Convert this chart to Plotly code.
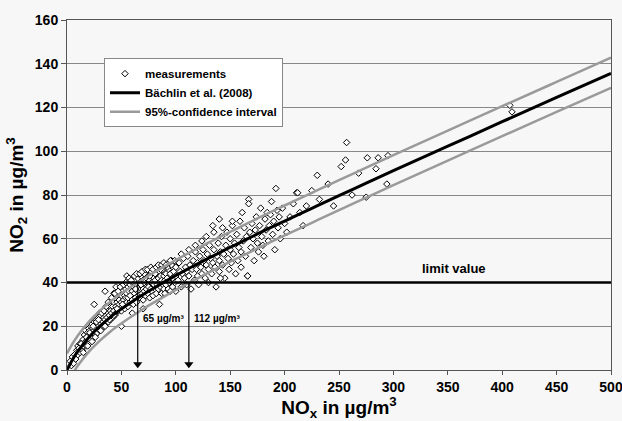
import plotly.graph_objects as go

meas_x = [3,4,5,6,7,8,9,10,10,11,12,12,13,14,14,15,15,16,16,17,17,18,18,19,19,20,20,20,21,21,22,22,23,23,24,24,25,25,26,26,27,27,28,28,29,29,30,30,30,31,31,32,32,33,33,34,34,35,35,36,36,37,37,38,38,39,39,40,40,40,
          41,42,42,43,43,44,44,45,45,46,46,47,47,48,48,49,49,50,50,50,51,51,52,52,53,53,54,54,55,55,56,56,57,57,58,58,59,59,60,60,60,61,61,62,62,63,63,64,64,65,65,66,66,67,67,68,68,69,69,70,70,70,71,71,72,72,73,73,74,74,75,75,76,76,77,77,78,78,79,79,80,80,80,81,81,82,82,83,83,84,84,85,85,86,86,87,87,88,88,89,89,90,90,90,91,91,92,93,93,94,95,95,96,97,97,98,99,100,100,100,
          55,50,85,35,25,70,60,45,43,
          11,13,18,21,24,27,29,32,34,36,38,41,44,47,49,52,54,57,59,62,64,67,69,72,74,77,79,82,84,87,89,92,94,96,99,
          15,19,23,26,31,35,39,43,46,51,56,58,63,68,71,76,81,86,91,95,
          102,103,104,105,106,107,108,109,110,110,111,112,113,114,115,116,117,118,119,120,120,121,122,123,124,125,126,127,128,129,130,130,131,132,133,134,135,136,137,138,139,140,140,141,142,143,144,145,146,147,148,149,150,150,151,152,153,154,155,156,157,158,159,160,160,134,140,141,166,
          105,112,118,124,128,135,143,152,
          161,162,163,164,165,166,167,167,168,169,170,171,172,173,174,175,176,177,178,179,180,181,182,183,184,185,186,187,188,189,190,191,192,193,194,195,196,198,200,202,205,208,211,212,214,217,220,
          225,230,232,240,245,252,256,257,262,268,275,276,284,286,294,295,407,409]
meas_y = [4,2,6,3,7,5,9,7,11,9,12,8,10,13,9,14,11,12,16,13,18,15,11,17,14,16,19,12,18,14,20,16,17,21,15,19,22,18,20,16,23,19,21,17,24,20,22,18,26,21,25,19,23,26,22,24,20,27,23,25,21,28,24,26,22,29,25,27,23,31,
          26,29,24,31,27,25,33,29,26,31,28,34,27,30,32,28,35,31,27,34,29,36,32,30,34,28,33,37,31,35,29,38,33,36,31,39,34,37,32,36,40,30,38,35,41,33,37,39,31,36,42,34,38,40,33,37,43,35,39,41,32,37,36,44,39,34,42,37,35,40,43,38,33,41,45,37,40,36,43,34,39,42,46,37,41,44,35,39,47,42,37,40,45,38,43,35,41,46,39,43,37,41,48,35,44,39,42,46,37,40,44,36,48,42,38,45,40,43,47,36,
          43,20,30,36,30,28,26,38,35,
          10,12,15,17,20,22,23,26,27,29,31,33,35,36,38,39,40,42,41,43,44,44,45,46,46,47,46,47,48,48,49,47,49,50,50,
          8,11,13,15,18,20,23,25,28,30,33,34,37,39,40,43,44,46,48,50,
          41,49,45,38,44,51,42,47,39,45,52,43,48,37,46,50,41,54,46,49,43,39,52,47,44,55,50,42,48,53,46,40,57,51,44,49,55,47,38,52,58,50,45,54,61,48,53,42,57,63,51,46,55,60,49,66,53,58,44,62,50,56,68,54,47,66,69,42,43,
          53,55,57,59,61,63,65,68,
          72,59,65,52,61,43,78,76,63,56,67,60,50,64,70,58,54,66,74,61,57,52,69,64,72,59,66,71,77,62,68,55,83,73,65,70,60,74,67,63,70,76,81,81,72,66,75,
          82,89,78,85,75,93,96,104,80,90,79,97,92,97,85,98,121,118]

# Model curve and 95 % confidence band
fit_x = [0,5,10,20,30,40,50,60,70,80,90,100,110,120,130,140,150,160,175,200,225,250,275,300,350,400,450,500]
fit_y = [0,4.7,8.6,14.9,19.9,24.2,27.9,31.3,34.5,37.5,40.4,43.2,45.9,48.5,51.1,53.6,56.1,58.5,62.2,68.1,73.9,79.7,85.4,91.1,102.3,113.5,124.6,135.6]
upper_y = [7.6,12.0,15.8,22.0,27.0,31.3,35.0,38.4,41.6,44.6,47.5,50.3,53.0,55.6,58.2,60.7,63.2,65.6,69.3,75.2,81.0,86.8,92.5,98.2,109.4,120.6,131.7,142.8]
lower_y = [-6.6,-1.9,2.0,8.3,13.3,17.6,21.3,24.7,27.9,30.9,33.8,36.6,39.3,41.9,44.5,47.0,49.5,51.9,55.6,61.5,67.3,73.1,78.8,84.5,95.7,106.9,118.0,129.0]

limit_value = 40
arrow_x = [65, 112]
arrow_labels = ["65 µg/m³", "112 µg/m³"]

x_ticks = [0, 50, 100, 150, 200, 250, 300, 350, 400, 450, 500]
y_ticks = [0, 20, 40, 60, 80, 100, 120, 140, 160]

FONT = "Liberation Sans, Arial, sans-serif"
BG = "#f7f7f7"

fig = go.Figure()

fig.add_trace(go.Scatter(
    x=meas_x, y=meas_y, mode="markers", name="<b>measurements</b>",
    marker=dict(symbol="diamond", size=5, color="white",
                line=dict(color="black", width=1)),
))
fig.add_trace(go.Scatter(
    x=fit_x, y=fit_y, mode="lines", name="<b>Bächlin et al. (2008)</b>",
    line=dict(color="black", width=3, shape="spline"),
))
fig.add_trace(go.Scatter(
    x=fit_x, y=upper_y, mode="lines", name="<b>95%-confidence interval</b>",
    line=dict(color="#9a9a9a", width=2.5, shape="spline"),
))
fig.add_trace(go.Scatter(
    x=fit_x, y=lower_y, mode="lines", showlegend=False,
    line=dict(color="#9a9a9a", width=2.5, shape="spline"),
))
fig.add_trace(go.Scatter(
    x=[0, 500], y=[limit_value, limit_value], mode="lines", showlegend=False,
    line=dict(color="black", width=2.5),
))

# arrows from the limit value down to the x axis
for ax_val in arrow_x:
    fig.add_trace(go.Scatter(
        x=[ax_val, ax_val], y=[limit_value, 2], mode="lines", showlegend=False,
        line=dict(color="black", width=1.2), hoverinfo="skip"))
    fig.add_trace(go.Scatter(
        x=[ax_val], y=[2.6], mode="markers", showlegend=False,
        marker=dict(symbol="triangle-down", size=8, color="black",
                    line=dict(width=0)), hoverinfo="skip"))

annotations = [dict(x=356, y=limit_value + 6.5, text="<b>limit value</b>",
                    showarrow=False, font=dict(family=FONT, size=13, color="black"))]
for ax_val, lab in zip(arrow_x, arrow_labels):
    annotations.append(dict(
        x=ax_val + 3, y=23.5, text="<b>" + lab + "</b>", showarrow=False,
        xanchor="left", font=dict(family=FONT, size=10, color="black")))

fig.update_layout(
    width=622, height=421,
    margin=dict(l=67, r=11, t=20, b=51),
    paper_bgcolor=BG, plot_bgcolor=BG,
    font=dict(family=FONT, color="black"),
    showlegend=True,
    legend=dict(x=0.068, y=0.891, xanchor="left", yanchor="top",
                bgcolor="white", bordercolor="#888888", borderwidth=1,
                font=dict(family=FONT, size=11.5, color="black"),
                tracegroupgap=0, itemwidth=30),
    annotations=annotations,
    xaxis=dict(range=[0, 500], tickvals=x_ticks,
               ticktext=["<b>%d</b>" % v for v in x_ticks],
               ticklabeloverflow="allow", automargin=False,
               showgrid=False, zeroline=False, showline=True, linecolor="#555555",
               linewidth=1, ticks="outside", ticklen=4, tickcolor="#555555",
               mirror=True, tickfont=dict(family=FONT, size=14),
               title=dict(text="<b>NO<sub>x</sub> in µg/m<sup>3</sup></b>",
                          font=dict(family=FONT, size=19), standoff=2)),
    yaxis=dict(range=[0, 160], tickvals=y_ticks,
               ticktext=["<b>%d</b>" % v for v in y_ticks],
               ticklabeloverflow="allow", automargin=False,
               showgrid=True, gridcolor="#888888", gridwidth=1,
               zeroline=False, showline=True, linecolor="#555555", linewidth=1,
               ticks="outside", ticklen=5, tickcolor="#555555", mirror=True,
               tickfont=dict(family=FONT, size=14),
               title=dict(text="<b>NO<sub>2</sub> in µg/m<sup>3</sup></b>",
                          font=dict(family=FONT, size=19), standoff=6)),
)

fig.write_html("out.html")
